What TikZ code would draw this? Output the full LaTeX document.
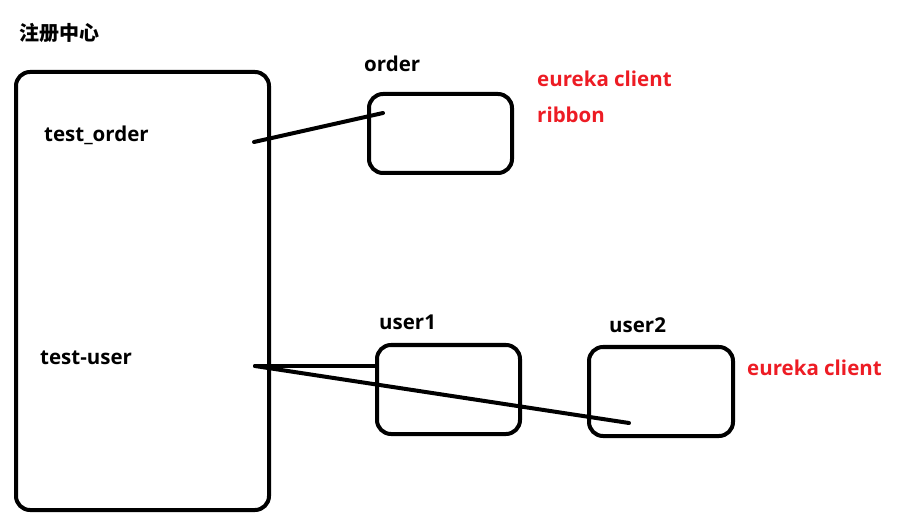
\documentclass[tikz,border=0pt]{standalone}
\usepackage{fontspec}
\setmainfont{Open Sans}
\newfontfamily\cjk{Noto Sans CJK SC}
\usetikzlibrary{positioning}
\definecolor{paintred}{RGB}{237,28,36}

\begin{document}
\begin{tikzpicture}[x=1pt,y=-1pt,
    box/.style={draw,line width=4pt,rounded corners=14pt,inner sep=0pt},
    lbl/.style={font=\bfseries\fontsize{20.5}{24}\selectfont,inner sep=0pt,anchor=west},
    note/.style={lbl,text=paintred},
    link/.style={line width=4pt,line cap=round}]
  \useasboundingbox (0,0) rectangle (907,526);
  % registry and services
  \node[box,minimum width=253pt,minimum height=438pt] (reg) at (142.5,291) {};
  \node[box,minimum width=143pt,minimum height=79pt] (order) at (440.5,133.5) {};
  \node[box,minimum width=143pt,minimum height=89pt] (user1) at (448.5,389.5) {};
  \node[box,minimum width=144pt,minimum height=89pt] (user2) at (661,391.5) {};
  % labels
  \node[lbl,font=\cjk\bfseries\fontsize{20}{24}\selectfont] (regname) at (19,33) {注册中心};
  \node[lbl] (torder) at (44,135) {test\_order};
  \node[lbl] (tuser) at (40,358) {test-user};
  \node[lbl] (ordername) at (364,64) {order};
  \node[lbl] (u1name) at (379,322) {user1};
  \node[lbl] (u2name) at (609,325) {user2};
  \node[note] (oclient) at (537,79) {eureka client};
  \node[note] (oribbon) [below=36pt of oclient.west,anchor=west] {ribbon};
  \node[note] (u2client) at (747,368) {eureka client};
  % connectors
  \coordinate (regO) at (254,142);
  \coordinate (inO) at (383,113);
  \coordinate (regU) at (255,366);
  \coordinate (inU2) at (629,423);
  \draw[link] (regO) -- (inO);
  \draw[link] (regU) -- (regU -| user1.west);
  \draw[link] (regU) -- (inU2);
\end{tikzpicture}
\end{document}
